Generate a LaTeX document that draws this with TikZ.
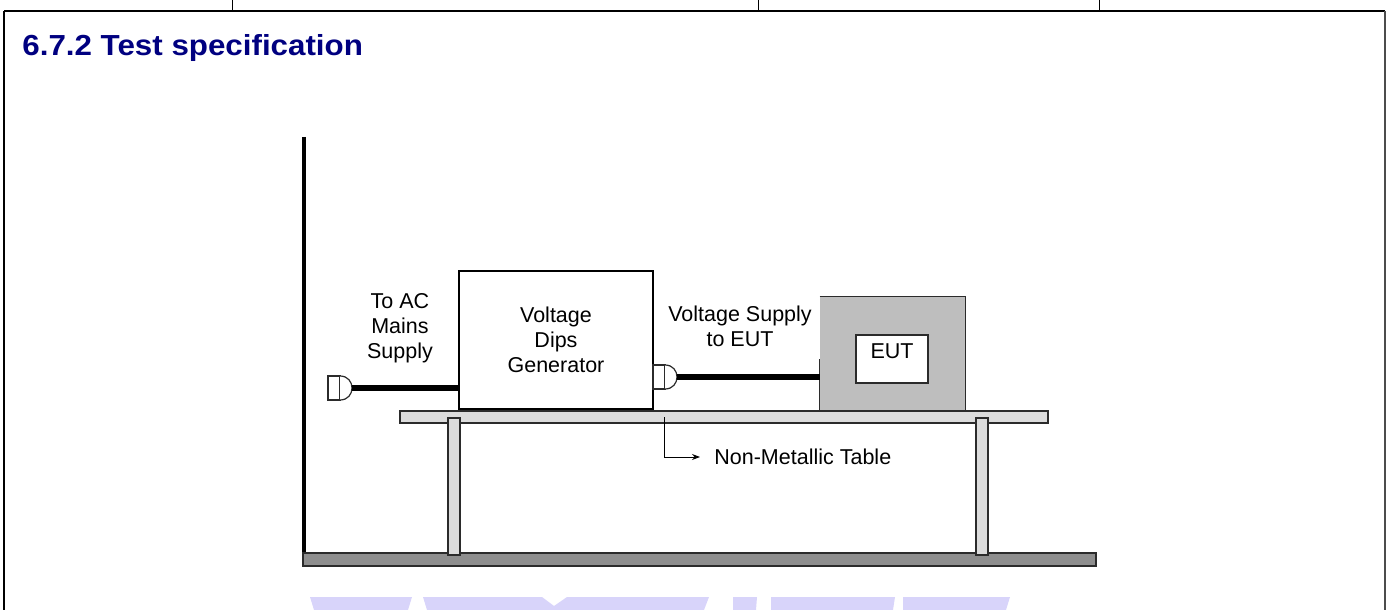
\documentclass[tikz,border=0pt]{standalone}
\usepackage{fontspec}
\setmainfont{Liberation Sans}
\newfontfamily\titlefont[FakeStretch=1.08]{Liberation Sans}
\definecolor{setupNavy}{HTML}{000080}
\definecolor{setupCase}{HTML}{BEBEBE}
\definecolor{setupTable}{HTML}{DCDCDC}
\definecolor{setupFloor}{HTML}{8E8E8E}
\definecolor{setupEdge}{HTML}{2B2B2B}
\definecolor{setupMark}{HTML}{D8D4FA}
\usetikzlibrary{arrows.meta, positioning, calc}

% plug: left-middle point (#1,#2), tip coordinate named #3
\newcommand{\plugshape}[3]{%
  \draw[plugline, fill=white] (#1,#2-12) rectangle (#1+12,#2+12);
  \draw[plugline, fill=white] (#1+12,#2-12) .. controls (#1+28,#2-12) and (#1+28,#2+12) .. (#1+12,#2+12);
  \coordinate (#3) at (#1+24,#2);
}

\begin{document}
\begin{tikzpicture}[
  x=0.5pt, y=-0.5pt,
  every node/.style={font=\fontsize{10.75}{12.5}\selectfont, inner sep=0pt},
  unitbox/.style={draw=black, line width=1pt, fill=white, align=center,
    minimum width=97pt, minimum height=69pt},
  casebox/.style={fill=setupCase, minimum width=72.5pt, minimum height=56.5pt},
  eutbox/.style={draw=setupEdge, line width=0.6pt, fill=white,
    minimum width=36pt, minimum height=24pt, text depth=7.6pt},
  boxedge/.style={draw=setupEdge, line width=0.6pt},
  plank/.style={draw=setupEdge, line width=0.6pt, fill=setupTable},
  cable/.style={line width=2.8pt},
  plugline/.style={draw=setupEdge, line width=0.6pt},
  pointer/.style={line width=0.5pt, -{Stealth[length=4pt, width=3pt]}}]
  \useasboundingbox (0,0) rectangle (1389,610);

  % Page frame
  \draw[line width=1pt] (4,11) -- (1385,11);
  \foreach \x in {232,758,1099} {
    \draw[line width=0.5pt] (\x,0) -- (\x,11);
  }
  \draw[line width=0.6pt] (4,11) -- (4,610);
  \draw[black!70, line width=0.9pt] (1385,11) -- (1385,610);
  \node[anchor=base west, font=\titlefont\bfseries\fontsize{14.5}{16}\selectfont, text=setupNavy]
    (title) at (22,56) {6.7.2 Test specification};

  % Watermark
  \fill[setupMark] (310,597) -- (412,597) -- (408,610) -- (314,610) -- cycle;
  \fill[setupMark] (423,597) -- (542,597) -- (554,606) -- (567,597) -- (709,597)
    -- (704,610) -- (427,610) -- cycle;
  \fill[setupMark] (733,597) -- (757,597) -- (756,610) -- (733,610) -- cycle;
  \fill[setupMark] (771,597) -- (895,597) -- (893,610) -- (771,610) -- cycle;
  \fill[setupMark] (903,597) -- (1010,597) -- (1006,610) -- (903,610) -- cycle;

  % Wall and floor
  \node[plank, fill=setupFloor, minimum width=396.5pt, minimum height=6.5pt] (floor) at (699.5,559.5) {};
  \coordinate (wallTop) at (303.5,137);
  \draw[line width=2pt] (wallTop) -- (wallTop |- floor.north);

  % Table
  \node[plank, minimum width=324pt, minimum height=6pt] (table) at (724,417) {};
  \node[plank, minimum width=6pt, minimum height=68.5pt] (legL) at (454,486.5) {};
  \node[plank, minimum width=6pt, minimum height=68.5pt] (legR) at (982,486.5) {};
  \coordinate (tableMark) at (664,417);
  \node[anchor=west] (tableLabel) at (714,457) {Non-Metallic Table};
  \draw[pointer] (tableMark) |- ([xshift=-7pt]tableLabel.west);

  % Generator
  \node[unitbox] (gen) at (556,340) {Voltage\\Dips\\Generator};

  % EUT
  \node[casebox] (case) at (892.5,353.5) {};
  \draw[boxedge] ($(case.south west)+(0,-51)$) -- (case.south west);
  \draw[boxedge] (case.north west) -- (case.north east) -- (case.south east);
  \node[eutbox] (eut) at (892,359) {EUT};

  % Plugs and cables
  \plugshape{328}{388}{acPlug}
  \draw[cable] (acPlug) -- (acPlug -| gen.west);
  \plugshape{653}{377}{eutPlug}
  \draw[cable] (eutPlug) -- (eutPlug -| case.west);

  % Labels
  \node[anchor=north, align=center] (acLabel) at (400,293.5) {To AC\\Mains\\Supply};
  \node[anchor=north, align=center] (supplyLabel) at (740,305.5) {Voltage Supply\\to EUT};
\end{tikzpicture}
\end{document}
